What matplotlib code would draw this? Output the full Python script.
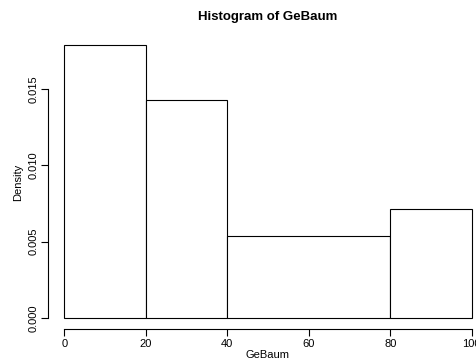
import matplotlib.pyplot as plt
import numpy as np

plt.rcParams['font.family'] = ['Liberation Sans', 'DejaVu Sans']

bin_edges = [0, 20, 40, 80, 100]
density = [0.017857, 0.014286, 0.005357, 0.007143]
x_ticks = [0, 20, 40, 60, 80, 100]
y_ticks = [0.000, 0.005, 0.010, 0.015]
y_tick_labels = ["0.000", "0.005", "0.010", "0.015"]

fig = plt.figure(figsize=(4.77, 3.63), dpi=100)
# plot region runs a bit past the right edge, as in the cropped original
ax = fig.add_axes([48 / 477, 34 / 363, 440 / 477, 294.5 / 363])

left = bin_edges[:-1]
widths = np.diff(bin_edges)
ax.bar(left, density, width=widths, align='edge', color='white',
       edgecolor='black', linewidth=0.8)

ax.set_xlim(-4, 104)
ax.set_ylim(-0.000714, 0.018571)

for side in ["top", "right"]:
    ax.spines[side].set_visible(False)
ax.spines["bottom"].set_bounds(0, 100)
ax.spines["left"].set_bounds(0, 0.015)
ax.spines["bottom"].set_linewidth(0.8)
ax.spines["left"].set_linewidth(0.8)

ax.set_xticks(x_ticks)
ax.set_yticks(y_ticks)
ax.set_yticklabels(y_tick_labels, rotation=90, va='center')
ax.tick_params(direction='out', length=5, width=0.8, labelsize=8, pad=2)

fig.text(268 / 477, 1 - 355 / 363, "GeBaum", ha='center', va='center', fontsize=8)
fig.text(18 / 477, 1 - 182 / 363, "Density", ha='center', va='center',
         rotation=90, fontsize=8)
fig.text(268 / 477, 1 - 17 / 363, "Histogram of GeBaum", ha='center',
         va='center', fontsize=9.5, fontweight='bold')

fig.savefig("out.png")
